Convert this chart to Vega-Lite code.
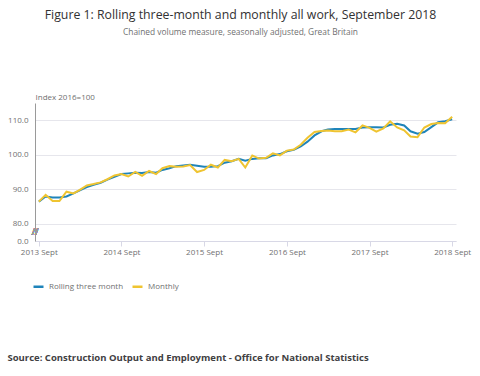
{
  "$schema": "https://vega.github.io/schema/vega-lite/v6.json",
  "autosize": "none",
  "padding": {"left": 35, "top": 103, "right": 24, "bottom": 135},
  "width": 421,
  "height": 138,
  "config": {
    "font": "Open Sans",
    "view": {"stroke": null}
  },
  "title": {
    "text": "Figure 1: Rolling three-month and monthly all work, September 2018",
    "subtitle": "Chained volume measure, seasonally adjusted, Great Britain",
    "anchor": "middle",
    "frame": "group",
    "dx": -5,
    "fontSize": 12.3,
    "fontWeight": "normal",
    "color": "#323132",
    "subtitleFontSize": 8.4,
    "subtitleColor": "#707071",
    "subtitlePadding": 6,
    "offset": 57
  },
  "data": {
    "values": [
      {"date": "2013-09-01", "series": "Rolling three month", "value": 86.4},
      {"date": "2013-10-01", "series": "Rolling three month", "value": 87.9},
      {"date": "2013-11-01", "series": "Rolling three month", "value": 87.6},
      {"date": "2013-12-01", "series": "Rolling three month", "value": 87.6},
      {"date": "2014-01-01", "series": "Rolling three month", "value": 87.9},
      {"date": "2014-02-01", "series": "Rolling three month", "value": 88.8},
      {"date": "2014-03-01", "series": "Rolling three month", "value": 89.7},
      {"date": "2014-04-01", "series": "Rolling three month", "value": 90.6},
      {"date": "2014-05-01", "series": "Rolling three month", "value": 91.3},
      {"date": "2014-06-01", "series": "Rolling three month", "value": 91.9},
      {"date": "2014-07-01", "series": "Rolling three month", "value": 92.8},
      {"date": "2014-08-01", "series": "Rolling three month", "value": 93.6},
      {"date": "2014-09-01", "series": "Rolling three month", "value": 94.4},
      {"date": "2014-10-01", "series": "Rolling three month", "value": 94.6},
      {"date": "2014-11-01", "series": "Rolling three month", "value": 94.8},
      {"date": "2014-12-01", "series": "Rolling three month", "value": 94.7},
      {"date": "2015-01-01", "series": "Rolling three month", "value": 95.0},
      {"date": "2015-02-01", "series": "Rolling three month", "value": 94.8},
      {"date": "2015-03-01", "series": "Rolling three month", "value": 95.6},
      {"date": "2015-04-01", "series": "Rolling three month", "value": 96.1},
      {"date": "2015-05-01", "series": "Rolling three month", "value": 96.7},
      {"date": "2015-06-01", "series": "Rolling three month", "value": 96.9},
      {"date": "2015-07-01", "series": "Rolling three month", "value": 97.1},
      {"date": "2015-08-01", "series": "Rolling three month", "value": 96.8},
      {"date": "2015-09-01", "series": "Rolling three month", "value": 96.5},
      {"date": "2015-10-01", "series": "Rolling three month", "value": 96.5},
      {"date": "2015-11-01", "series": "Rolling three month", "value": 96.7},
      {"date": "2015-12-01", "series": "Rolling three month", "value": 97.7},
      {"date": "2016-01-01", "series": "Rolling three month", "value": 98.1},
      {"date": "2016-02-01", "series": "Rolling three month", "value": 98.8},
      {"date": "2016-03-01", "series": "Rolling three month", "value": 98.3},
      {"date": "2016-04-01", "series": "Rolling three month", "value": 98.8},
      {"date": "2016-05-01", "series": "Rolling three month", "value": 99.0},
      {"date": "2016-06-01", "series": "Rolling three month", "value": 99.0},
      {"date": "2016-07-01", "series": "Rolling three month", "value": 99.8},
      {"date": "2016-08-01", "series": "Rolling three month", "value": 100.2},
      {"date": "2016-09-01", "series": "Rolling three month", "value": 101.0},
      {"date": "2016-10-01", "series": "Rolling three month", "value": 101.4},
      {"date": "2016-11-01", "series": "Rolling three month", "value": 102.4},
      {"date": "2016-12-01", "series": "Rolling three month", "value": 103.8},
      {"date": "2017-01-01", "series": "Rolling three month", "value": 105.6},
      {"date": "2017-02-01", "series": "Rolling three month", "value": 106.8},
      {"date": "2017-03-01", "series": "Rolling three month", "value": 107.3},
      {"date": "2017-04-01", "series": "Rolling three month", "value": 107.5},
      {"date": "2017-05-01", "series": "Rolling three month", "value": 107.5},
      {"date": "2017-06-01", "series": "Rolling three month", "value": 107.5},
      {"date": "2017-07-01", "series": "Rolling three month", "value": 107.5},
      {"date": "2017-08-01", "series": "Rolling three month", "value": 107.9},
      {"date": "2017-09-01", "series": "Rolling three month", "value": 108.0},
      {"date": "2017-10-01", "series": "Rolling three month", "value": 108.0},
      {"date": "2017-11-01", "series": "Rolling three month", "value": 107.9},
      {"date": "2017-12-01", "series": "Rolling three month", "value": 108.7},
      {"date": "2018-01-01", "series": "Rolling three month", "value": 109.0},
      {"date": "2018-02-01", "series": "Rolling three month", "value": 108.5},
      {"date": "2018-03-01", "series": "Rolling three month", "value": 106.8},
      {"date": "2018-04-01", "series": "Rolling three month", "value": 106.1},
      {"date": "2018-05-01", "series": "Rolling three month", "value": 106.6},
      {"date": "2018-06-01", "series": "Rolling three month", "value": 108.0},
      {"date": "2018-07-01", "series": "Rolling three month", "value": 109.4},
      {"date": "2018-08-01", "series": "Rolling three month", "value": 109.7},
      {"date": "2018-09-01", "series": "Rolling three month", "value": 110.3},
      {"date": "2013-09-01", "series": "Monthly", "value": 86.4},
      {"date": "2013-10-01", "series": "Monthly", "value": 88.4},
      {"date": "2013-11-01", "series": "Monthly", "value": 86.6},
      {"date": "2013-12-01", "series": "Monthly", "value": 86.6},
      {"date": "2014-01-01", "series": "Monthly", "value": 89.3},
      {"date": "2014-02-01", "series": "Monthly", "value": 88.8},
      {"date": "2014-03-01", "series": "Monthly", "value": 89.8},
      {"date": "2014-04-01", "series": "Monthly", "value": 91.1},
      {"date": "2014-05-01", "series": "Monthly", "value": 91.5},
      {"date": "2014-06-01", "series": "Monthly", "value": 92.0},
      {"date": "2014-07-01", "series": "Monthly", "value": 92.9},
      {"date": "2014-08-01", "series": "Monthly", "value": 94.0},
      {"date": "2014-09-01", "series": "Monthly", "value": 94.4},
      {"date": "2014-10-01", "series": "Monthly", "value": 93.7},
      {"date": "2014-11-01", "series": "Monthly", "value": 95.0},
      {"date": "2014-12-01", "series": "Monthly", "value": 93.9},
      {"date": "2015-01-01", "series": "Monthly", "value": 95.3},
      {"date": "2015-02-01", "series": "Monthly", "value": 94.4},
      {"date": "2015-03-01", "series": "Monthly", "value": 96.1},
      {"date": "2015-04-01", "series": "Monthly", "value": 96.7},
      {"date": "2015-05-01", "series": "Monthly", "value": 96.5},
      {"date": "2015-06-01", "series": "Monthly", "value": 96.6},
      {"date": "2015-07-01", "series": "Monthly", "value": 97.0},
      {"date": "2015-08-01", "series": "Monthly", "value": 95.0},
      {"date": "2015-09-01", "series": "Monthly", "value": 95.6},
      {"date": "2015-10-01", "series": "Monthly", "value": 97.1},
      {"date": "2015-11-01", "series": "Monthly", "value": 96.3},
      {"date": "2015-12-01", "series": "Monthly", "value": 98.5},
      {"date": "2016-01-01", "series": "Monthly", "value": 98.1},
      {"date": "2016-02-01", "series": "Monthly", "value": 98.8},
      {"date": "2016-03-01", "series": "Monthly", "value": 96.3},
      {"date": "2016-04-01", "series": "Monthly", "value": 99.8},
      {"date": "2016-05-01", "series": "Monthly", "value": 98.9},
      {"date": "2016-06-01", "series": "Monthly", "value": 99.1},
      {"date": "2016-07-01", "series": "Monthly", "value": 100.4},
      {"date": "2016-08-01", "series": "Monthly", "value": 99.8},
      {"date": "2016-09-01", "series": "Monthly", "value": 101.2},
      {"date": "2016-10-01", "series": "Monthly", "value": 101.5},
      {"date": "2016-11-01", "series": "Monthly", "value": 102.9},
      {"date": "2016-12-01", "series": "Monthly", "value": 104.9},
      {"date": "2017-01-01", "series": "Monthly", "value": 106.6},
      {"date": "2017-02-01", "series": "Monthly", "value": 106.9},
      {"date": "2017-03-01", "series": "Monthly", "value": 107.0},
      {"date": "2017-04-01", "series": "Monthly", "value": 106.8},
      {"date": "2017-05-01", "series": "Monthly", "value": 106.8},
      {"date": "2017-06-01", "series": "Monthly", "value": 107.3},
      {"date": "2017-07-01", "series": "Monthly", "value": 106.5},
      {"date": "2017-08-01", "series": "Monthly", "value": 108.5},
      {"date": "2017-09-01", "series": "Monthly", "value": 107.8},
      {"date": "2017-10-01", "series": "Monthly", "value": 106.7},
      {"date": "2017-11-01", "series": "Monthly", "value": 107.6},
      {"date": "2017-12-01", "series": "Monthly", "value": 109.7},
      {"date": "2018-01-01", "series": "Monthly", "value": 107.9},
      {"date": "2018-02-01", "series": "Monthly", "value": 107.1},
      {"date": "2018-03-01", "series": "Monthly", "value": 105.3},
      {"date": "2018-04-01", "series": "Monthly", "value": 105.1},
      {"date": "2018-05-01", "series": "Monthly", "value": 107.9},
      {"date": "2018-06-01", "series": "Monthly", "value": 108.9},
      {"date": "2018-07-01", "series": "Monthly", "value": 109.2},
      {"date": "2018-08-01", "series": "Monthly", "value": 109.1},
      {"date": "2018-09-01", "series": "Monthly", "value": 111.0}
    ]
  },
  "resolve": {"axis": {"x": "independent", "y": "independent"}},
  "layer": [
    {
      "mark": {"type": "line", "strokeWidth": 2},
      "encoding": {
        "x": {
          "field": "date",
          "type": "temporal",
          "scale": {
            "type": "utc",
            "domain": [
              {"year": 2013, "month": 8, "date": 15, "utc": true},
              {"year": 2018, "month": 9, "date": 18, "utc": true}
            ]
          },
          "axis": {
            "values": [
              {"year": 2013, "month": 9, "date": 1, "utc": true},
              {"year": 2014, "month": 9, "date": 1, "utc": true},
              {"year": 2015, "month": 9, "date": 1, "utc": true},
              {"year": 2016, "month": 9, "date": 1, "utc": true},
              {"year": 2017, "month": 9, "date": 1, "utc": true},
              {"year": 2018, "month": 9, "date": 1, "utc": true}
            ],
            "labelExpr": "utcFormat(datum.value, '%Y') + ' Sept'",
            "grid": false,
            "domainColor": "#d8d8e6",
            "tickColor": "#d8d8e6",
            "tickSize": 5,
            "labelColor": "#707071",
            "labelFontSize": 8,
            "labelPadding": 2,
            "title": "Source: Construction Output and Employment - Office for National Statistics",
            "titleFontSize": 9.5,
            "titleFontWeight": "bold",
            "titleColor": "#414042",
            "titleAngle": 0,
            "titleAnchor": "start",
            "titleAlign": "left",
            "titleBaseline": "middle",
            "titleX": -28,
            "titleY": 116
          }
        },
        "y": {
          "field": "value",
          "type": "quantitative",
          "scale": {"domain": [75, 115], "nice": false, "zero": false},
          "axis": {
            "values": [75, 80, 90, 100, 110],
            "labelExpr": "datum.value == 75 ? '0.0' : format(datum.value, '.1f')",
            "ticks": false,
            "gridColor": "#e6e6ec",
            "domainColor": "#9a9a9a",
            "labelColor": "#707071",
            "labelFontSize": 8,
            "labelPadding": 7,
            "title": "Index 2016=100",
            "titleFontSize": 8,
            "titleFontWeight": "normal",
            "titleColor": "#707071",
            "titleAngle": 0,
            "titleAlign": "left",
            "titleBaseline": "bottom",
            "titleX": 0,
            "titleY": -2
          }
        },
        "color": {
          "field": "series",
          "type": "nominal",
          "sort": ["Rolling three month", "Monthly"],
          "scale": {"domain": ["Rolling three month", "Monthly"], "range": ["#1f84ba", "#efc431"]},
          "legend": {
            "title": null,
            "orient": "none",
            "direction": "horizontal",
            "legendX": -3,
            "legendY": 177,
            "symbolType": "stroke",
            "symbolStrokeWidth": 2.5,
            "symbolSize": 100,
            "labelFontSize": 8,
            "labelColor": "#707071",
            "columnPadding": 3,
            "labelOffset": 4
          }
        }
      }
    },
    {
      "mark": {"type": "text", "text": "//", "fontSize": 9, "color": "#9a9a9a"},
      "encoding": {
        "x": {"datum": {"year": 2013, "month": 8, "date": 15, "utc": true}, "type": "temporal", "axis": null},
        "y": {"datum": 77.5, "type": "quantitative", "axis": null}
      }
    }
  ]
}
